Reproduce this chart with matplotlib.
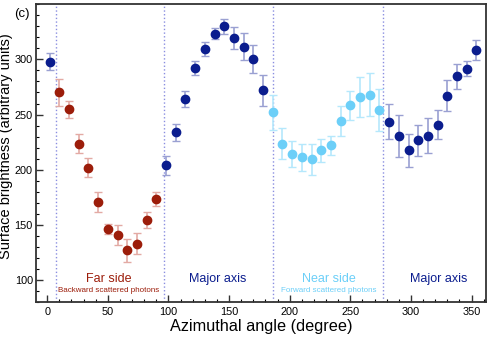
import numpy as np
import matplotlib
matplotlib.use("Agg")
from matplotlib import pyplot as plt
from matplotlib.ticker import MultipleLocator

plt.rcParams['font.family'] = ['Liberation Sans', 'DejaVu Sans']

# azimuthal angle (degree), brightness, error
angle = list(range(2, 355, 8))
bright = [298, 270, 254.6, 223.5, 202, 171, 146.7, 140.7, 127.2, 133.2, 154.6, 173.5,
          204.2, 234, 263.9, 291.9, 309.3, 323.2, 329.8, 319.6, 311.5, 300.3, 272,
          252.1, 223.8, 214.5, 211.2, 209.4, 217.5, 222, 244.3, 258.2, 265.7, 268.1, 253.7,
          243.7, 230.7, 217.5, 226.8, 231, 241, 266.9, 284.6, 291.6, 308.4]
err = [8, 12, 8, 8.5, 8.5, 9, 4.5, 9, 10.5, 9.5, 7.5, 6.5,
       8.5, 7.7, 7.5, 6.3, 6.5, 5, 7, 10, 12, 13, 14,
       16, 14, 12, 12.6, 14, 10, 9, 13.5, 13.5, 18, 19.5, 19,
       16, 19, 15, 14, 15.5, 13.5, 14, 11.5, 6.5, 8.7]
# region of each point: 0 major axis, 1 far side, 2 near side
region = [0] + [1] * 11 + [0] * 11 + [2] * 12 + [0] * 10

boundaries = [7, 96, 186, 277]

mcol = {0: '#0b1d8e', 1: '#9c1d0a', 2: '#6ccff8'}
ecol = {0: '#9aa0d2', 1: '#e3aaa4', 2: '#b5e8fc'}

fig, ax = plt.subplots(figsize=(4.91, 3.39), dpi=100)
fig.subplots_adjust(left=0.074, right=0.99, top=0.988, bottom=0.108)

angle = np.array(angle)
bright = np.array(bright)
err = np.array(err)
region = np.array(region)
for r in [0, 1, 2]:
    m = region == r
    ax.errorbar(angle[m], bright[m], yerr=err[m], fmt='o', color=mcol[r],
                ecolor=ecol[r], elinewidth=1.2, capsize=3, capthick=1,
                markersize=6, zorder=3)

for b in boundaries:
    ax.axvline(b, color='#8a8ee0', linestyle=':', linewidth=1, zorder=1)

ax.set_xlim(-9, 362)
ax.set_ylim(80, 350)
ax.xaxis.set_major_locator(MultipleLocator(50))
ax.xaxis.set_minor_locator(MultipleLocator(10))
ax.yaxis.set_minor_locator(MultipleLocator(10))
ax.set_yticks([100, 150, 200, 250, 300])
ax.tick_params(direction='in', which='major', length=5, width=1, labelsize=7.8, colors='#333333')
ax.tick_params(direction='in', which='minor', length=2.5, width=0.8)
ax.tick_params(axis='both', labelcolor='black')
ax.tick_params(axis='y', pad=2.5)
for s in ax.spines.values():
    s.set_linewidth(1.3)
    s.set_color('#333333')

ax.set_xlabel('Azimuthal angle (degree)', fontsize=11.7, labelpad=1)
ax.set_ylabel('Surface brightness (arbitrary units)', fontsize=10.5)
ax.yaxis.set_label_coords(-0.051, 0.525)

ax.text(51, 101, 'Far side', color=mcol[1], fontsize=9, ha='center', va='center')
ax.text(51, 91, 'Backward scattered photons', color=mcol[1], fontsize=5.8, ha='center', va='center')
ax.text(141, 101, 'Major axis', color=mcol[0], fontsize=9, ha='center', va='center')
ax.text(232, 101, 'Near side', color=mcol[2], fontsize=9, ha='center', va='center')
ax.text(232, 91, 'Forward scattered photons', color=mcol[2], fontsize=5.8, ha='center', va='center')
ax.text(323, 101, 'Major axis', color=mcol[0], fontsize=9, ha='center', va='center')

fig.text(0.045, 0.958, '(c)', fontsize=9.5, ha='center', va='center')

plt.savefig('out.png', dpi=100)
